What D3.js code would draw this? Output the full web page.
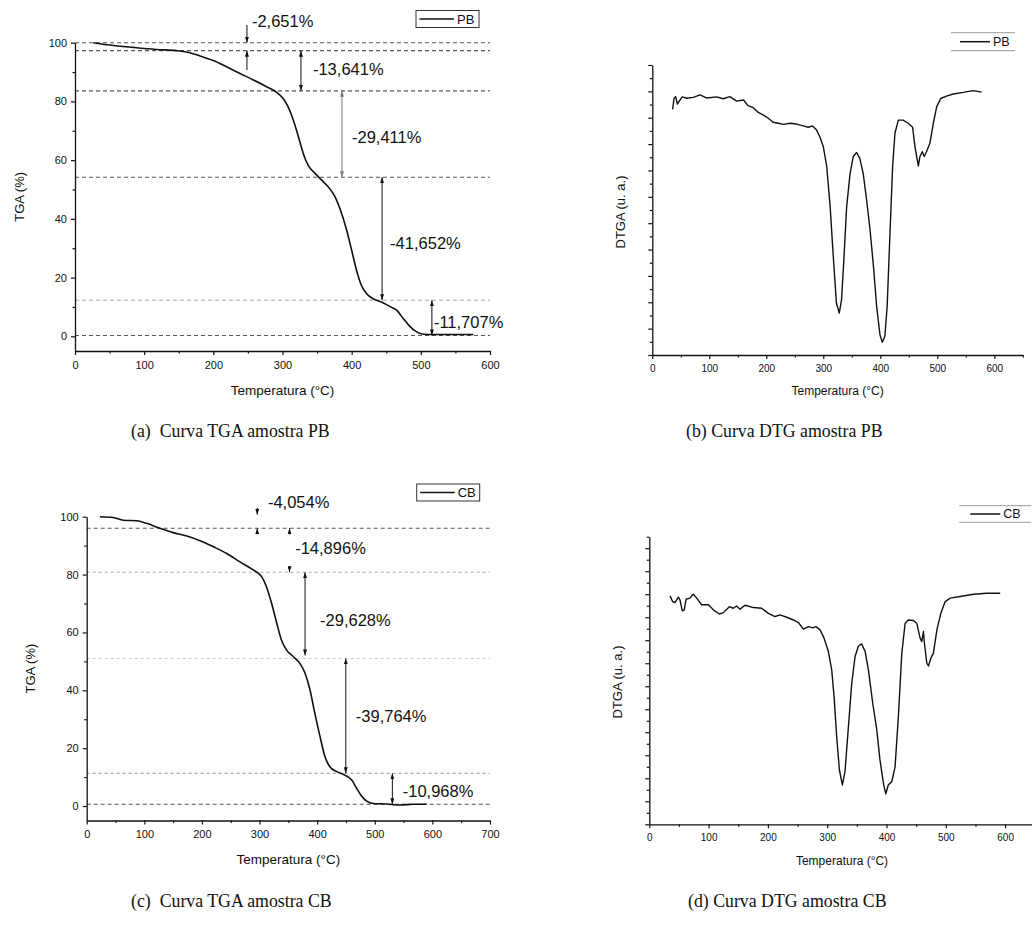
<!DOCTYPE html>
<html>
<head>
<meta charset="utf-8">
<script src="https://cdn.jsdelivr.net/npm/d3@7"></script>
<style>
  body { margin: 0; background: #fff; }
  svg { display: block; }
  text { font-family: "Liberation Sans", Arial, sans-serif; fill: #111; }
  .caption { font-family: "Liberation Serif", "Times New Roman", serif; font-size: 17.8px; white-space: pre; }
</style>
</head>
<body>
<div id="chart"></div>
<script>
// ---- data ----
// TGA curves: [temperature °C, mass %]
const tgaPB = [[26.5,100],[50.6,99.2],[84,98.4],[118,97.7],[147,97.3],[166,96.6],[180.7,95.5],[200,93.9],[219,91.8],[238.6,89.5],[258,87.3],[277,85],[291.6,83.1],[301,81],[308,78.2],[315.7,73.6],[323,68],[330,62.3],[337,58.3],[347,55.5],[356.6,53.2],[366,50.9],[376,47.5],[383,43.5],[392.8,36.1],[400,29.3],[407,22.5],[414,17.4],[421.7,14.5],[431,12.8],[443,11.7],[455,10.2],[465,8.9],[474.7,6],[484,3.4],[494,1.5],[503.6,0.7],[518,0.6],[576,0.6]];
const tgaCB = [[23,100],[46,99.7],[63.6,98.8],[86.8,98.6],[104,97.7],[127,96],[150,94.5],[173.6,93.3],[196.7,91.7],[220,89.6],[243,87.3],[266,84.4],[289,81.6],[303.7,79.3],[312,75.8],[321,70],[330,63.1],[338,57.4],[347,53.9],[358.7,51.6],[370,49.3],[379,45.9],[387.6,40.1],[396,32],[405,24],[413.6,17],[422,13.6],[434,11.9],[448,10.7],[460,9],[468.6,6.1],[477,3.5],[486,1.7],[497.5,0.9],[520.7,0.7],[543.8,0.35],[567,0.6],[590,0.6]];

// DTG curves: [temperature °C, arbitrary units]
const dtgPB = [[35.7,9.32],[38,9.73],[41,9.8],[44,9.52],[48.5,9.67],[52.6,9.79],[60,9.74],[72,9.77],[83.6,9.87],[95,9.75],[113,9.79],[124.6,9.72],[136,9.8],[148,9.63],[160,9.67],[168,9.46],[177,9.38],[186,9.2],[195,9.1],[203.5,8.98],[212,8.83],[221,8.79],[230,8.75],[241.5,8.79],[253,8.76],[265,8.69],[273.7,8.64],[281,8.69],[288,8.54],[294,8.28],[300,7.9],[306,7.15],[312,5.63],[317.5,3.74],[323,1.97],[328,1.59],[332,2.1],[336,3.6],[341,5.63],[347,6.89],[352.6,7.53],[358.5,7.68],[364,7.46],[370,6.89],[376,5.88],[382,4.75],[388,3.36],[393.6,1.84],[399.4,0.77],[403.5,0.48],[408,0.71],[412,1.84],[417,4.62],[421.6,7.15],[425.7,8.41],[431.6,8.91],[440,8.91],[449,8.79],[456.7,8.64],[460.8,7.9],[466.7,7.17],[469.6,7.53],[473.7,7.71],[477,7.53],[481,7.71],[487,8.03],[493,8.79],[499,9.42],[506,9.73],[516,9.82],[528,9.9],[545.6,9.96],[563,10.03],[577.8,9.97]];
const dtgCB = [[34.9,9.93],[39.4,9.68],[43.3,9.64],[49,9.87],[51.7,9.75],[55.7,9.28],[59,9.32],[61.9,9.78],[68.6,9.83],[74.2,10],[80,9.83],[88.3,9.54],[99.6,9.54],[108,9.32],[118,9.14],[125,9.2],[135,9.46],[141.7,9.39],[147,9.49],[153,9.35],[161.4,9.52],[175.5,9.42],[189.5,9.39],[200.8,9.17],[212,9.03],[220.5,9.1],[231.7,9],[243,8.88],[251.4,8.77],[259.8,8.48],[268.3,8.59],[275.6,8.54],[281,8.59],[288,8.45],[294.7,8.09],[302,7.51],[307.6,6.71],[311.6,5.55],[316,3.81],[320.6,2.36],[325.6,1.71],[330,2.29],[335.8,4.25],[341.4,6.13],[347,7.29],[352.6,7.75],[358,7.84],[364,7.51],[369.5,6.71],[376.8,5.26],[383.6,4.1],[389,2.8],[394.8,1.78],[398.8,1.32],[403,1.71],[409,1.86],[414.5,2.51],[420,4.68],[425.8,7.43],[431.4,8.74],[437,8.88],[445.4,8.86],[451,8.74],[456.7,8.09],[459.5,7.94],[462.3,8.38],[464,7.87],[468,7],[470.8,6.88],[474.7,7.22],[479,7.43],[485,8.45],[491.6,9.17],[499,9.68],[507.3,9.83],[524,9.9],[546.7,10],[569,10.04],[591.7,10.04]];

// mass-loss steps (levels in %) and their labels
const pbLevels = [100, 97.3, 83.6, 54.2, 12.3, 0.3];
const pbStepLabels = ["-2,651%", "-13,641%", "-29,411%", "-41,652%", "-11,707%"];
const pbStepTemps = [248.6, 326.7, 386, 444, 516];
const cbLevels = [100, 96.0, 80.8, 51.0, 11.3, 0.6];
const cbStepLabels = ["-4,054%", "-14,896%", "-29,628%", "-39,764%", "-10,968%"];
const cbStepTemps = [296, 352, 379, 449.7, 530.5];

const captions = ["(a)  Curva TGA amostra PB", "(b) Curva DTG amostra PB", "(c)  Curva TGA amostra CB", "(d) Curva DTG amostra CB"];

// ---- drawing ----
const svg = d3.select("#chart").append("svg").attr("width", 1032).attr("height", 942);

const defs = svg.append("defs");
[["arrowBlack", "#111"], ["arrowGray", "#777"]].forEach(([id, c]) => {
    defs.append("marker")
        .attr("id", id)
        .attr("viewBox", "0 0 6 4")
        .attr("refX", 6).attr("refY", 2)
        .attr("markerWidth", 6).attr("markerHeight", 4)
        .attr("markerUnits", "userSpaceOnUse")
        .attr("orient", "auto-start-reverse")
        .append("path").attr("d", "M0,0 L6,2 L0,4 Z").attr("fill", c);
});

function styleAxis(sel) {
    sel.selectAll("path.domain").attr("stroke", "#111").attr("stroke-width", 1.3);
    sel.selectAll(".tick line").attr("stroke", "#111").attr("stroke-width", 1.2);
}

function drawAxes(g, x, y, o) {
    const y0 = y.range()[0], x0 = x.range()[0];
    const xa = g.append("g").attr("transform", `translate(0,${y0})`)
        .call(d3.axisBottom(x).tickValues(o.xMajor).tickSize(4).tickSizeOuter(0).tickPadding(o.xPad));
    xa.selectAll("text").attr("font-size", o.tickFont).attr("fill", "#222");
    styleAxis(xa);
    const xm = g.append("g").attr("transform", `translate(0,${y0})`)
        .call(d3.axisBottom(x).tickValues(o.xMinor).tickSize(2.5).tickFormat(""));
    xm.select("path.domain").remove();
    styleAxis(xm);

    const ya = g.append("g").attr("transform", `translate(${x0},0)`)
        .call(d3.axisLeft(y).tickValues(o.yMajor).tickSize(4).tickSizeOuter(0).tickPadding(4)
            .tickFormat(o.yLabels ? d3.format("d") : ""));
    ya.selectAll("text").attr("font-size", o.tickFont).attr("fill", "#222");
    styleAxis(ya);
    const ym = g.append("g").attr("transform", `translate(${x0},0)`)
        .call(d3.axisLeft(y).tickValues(o.yMinor).tickSize(2.5).tickFormat(""));
    ym.select("path.domain").remove();
    styleAxis(ym);
}

function drawTga(p) {
    const g = svg.append("g");
    const x = d3.scaleLinear().domain(p.xDomain).range([p.left, p.right]);
    const y = d3.scaleLinear().domain([-5, 100]).range([p.bottom, p.top]);

    // dashed step levels
    g.selectAll(".level").data(p.levels.map((v, i) => ({v, i})).filter(d => p.levelShown[d.i]))
        .join("line")
        .attr("x1", x(0)).attr("x2", x(p.xDomain[1]))
        .attr("y1", d => y(d.v)).attr("y2", d => y(d.v))
        .attr("stroke", d => p.levelColors[d.i])
        .attr("stroke-width", 1.1)
        .attr("stroke-dasharray", d => p.levelDash[d.i]);

    drawAxes(g, x, y, {
        xMajor: d3.range(0, p.xDomain[1] + 1, 100),
        xMinor: d3.range(50, p.xDomain[1], 100),
        yMajor: [0, 20, 40, 60, 80, 100],
        yMinor: [10, 30, 50, 70, 90],
        yLabels: true, tickFont: 11, xPad: 6
    });

    const line = d3.line().x(d => x(d[0])).y(d => y(d[1])).curve(d3.curveMonotoneX);
    g.append("path").datum(p.curve)
        .attr("d", line).attr("fill", "none").attr("stroke", "#111").attr("stroke-width", 1.6);

    // step arrows and labels
    p.stepTemps.forEach((t, i) => {
        const a = p.arrows[i];
        const mk = `url(#${a.color ? "arrowGray" : "arrowBlack"})`;
        a.segs.forEach(s => {
            g.append("line")
                .attr("x1", x(t)).attr("x2", x(t))
                .attr("y1", s[0]).attr("y2", s[1])
                .attr("stroke", a.color || "#111").attr("stroke-width", 1)
                .attr("marker-end", mk)
                .attr("marker-start", s[2] ? mk : null);
        });
        g.append("text")
            .attr("x", x(t) + a.dx).attr("y", a.ly)
            .attr("dy", "0.35em")
            .attr("font-size", 16.5)
            .attr("fill", "#111")
            .text(p.stepLabels[i]);
    });

    g.append("text")
        .attr("transform", `translate(${p.left - 56},${(p.top + p.bottom) / 2}) rotate(-90)`)
        .attr("text-anchor", "middle").attr("dy", "0.35em")
        .attr("font-size", 13).text("TGA (%)");
    g.append("text")
        .attr("x", (p.left + p.right) / 2).attr("y", p.bottom + 39)
        .attr("text-anchor", "middle").attr("dy", "0.35em")
        .attr("font-size", 13.5).text("Temperatura (°C)");

    // legend box
    const lg = g.append("g").attr("transform", `translate(${p.legend[0]},${p.legend[1]})`);
    lg.append("rect").attr("width", 63).attr("height", 17)
        .attr("fill", "none").attr("stroke", "#333").attr("stroke-width", 1);
    lg.append("line").attr("x1", 3.5).attr("x2", 38).attr("y1", 8.5).attr("y2", 8.5)
        .attr("stroke", "#111").attr("stroke-width", 1.6);
    lg.append("text").attr("x", 41).attr("y", 8.5).attr("dy", "0.36em")
        .attr("font-size", 13).text(p.name);
}

function drawDtg(p) {
    const g = svg.append("g");
    const x = d3.scaleLinear().domain([0, 650]).range([p.left, p.left + 6.5 * p.perHundred]);
    const y = d3.scaleLinear().domain([0, p.yMax]).range([p.bottom, p.top]);

    drawAxes(g, x, y, {
        xMajor: [0, 100, 200, 300, 400, 500, 600],
        xMinor: [50, 150, 250, 350, 450, 550, 650],
        yMajor: d3.range(0, Math.floor(p.yMax) + 1, 1),
        yMinor: d3.range(0.5, p.yMax + 0.01, 1),
        yLabels: false, tickFont: 10, xPad: 6
    });

    const line = d3.line().x(d => x(d[0])).y(d => y(d[1]));
    g.append("path").datum(p.curve)
        .attr("d", line).attr("fill", "none").attr("stroke", "#111")
        .attr("stroke-width", 1.4).attr("stroke-linejoin", "round");

    g.append("text")
        .attr("transform", `translate(${p.left - 32},${p.labelY}) rotate(-90)`)
        .attr("text-anchor", "middle").attr("dy", "0.35em")
        .attr("font-size", 13).text("DTGA (u. a.)");
    g.append("text")
        .attr("x", (p.left + x(650)) / 2).attr("y", p.bottom + 36)
        .attr("text-anchor", "middle").attr("dy", "0.35em")
        .attr("font-size", 12).text("Temperatura (°C)");

    // legend: only top and bottom rules
    const lg = g.append("g").attr("transform", `translate(${p.legend[0]},${p.legend[1]})`);
    [0, p.legend[3]].forEach(yy => lg.append("line")
        .attr("x1", 0).attr("x2", p.legend[2]).attr("y1", yy).attr("y2", yy)
        .attr("stroke", "#999").attr("stroke-width", 1));
    lg.append("line").attr("x1", p.legend[4]).attr("x2", p.legend[4] + 30)
        .attr("y1", p.legend[3] / 2).attr("y2", p.legend[3] / 2)
        .attr("stroke", "#111").attr("stroke-width", 1.5);
    lg.append("text").attr("x", p.legend[4] + 33).attr("y", p.legend[3] / 2).attr("dy", "0.36em")
        .attr("font-size", 12.5).text(p.name);
}

// (a) TGA PB
{
    const left = 75, right = 490, top = 42.7, bottom = 351;
    const y = d3.scaleLinear().domain([-5, 100]).range([bottom, top]);
    const L = pbLevels.map(v => y(v));
    drawTga({
        name: "PB", curve: tgaPB, xDomain: [0, 600], left, right, top, bottom,
        levels: pbLevels, levelShown: [1, 1, 1, 1, 1, 1],
        levelColors: ["#555", "#555", "#555", "#555", "#aaa", "#555"],
        levelDash: ["4,3", "4,3", "4,3", "4,3", "4,3", "4,3"],
        stepLabels: pbStepLabels, stepTemps: pbStepTemps,
        legend: [416, 10.5],
        arrows: [
            {segs: [[25, L[0]], [70, L[1]]], dx: 5, ly: 21},
            {segs: [[L[1], L[2], 1]], dx: 12, ly: (L[1] + L[2]) / 2 - 2},
            {segs: [[L[2], L[3], 1]], dx: 10, ly: (L[2] + L[3]) / 2 + 3, color: "#777"},
            {segs: [[L[3], L[4], 1]], dx: 8, ly: (L[3] + L[4]) / 2 + 5},
            {segs: [[L[4], L[5], 1]], dx: 2, ly: (L[4] + L[5]) / 2 + 4}
        ]
    });
}

// (c) TGA CB
{
    const left = 86.7, right = 490, top = 516.7, bottom = 820.5;
    const y = d3.scaleLinear().domain([-5, 100]).range([bottom, top]);
    const L = cbLevels.map(v => y(v));
    drawTga({
        name: "CB", curve: tgaCB, xDomain: [0, 700], left, right, top, bottom,
        levels: cbLevels, levelShown: [0, 1, 1, 1, 1, 1],
        levelColors: ["#555", "#555", "#aaa", "#ccc", "#aaa", "#555"],
        levelDash: ["4,3", "4,3", "3,3", "3,3", "3,3", "4,3"],
        stepLabels: cbStepLabels, stepTemps: cbStepTemps,
        legend: [416.7, 484],
        arrows: [
            {segs: [[L[0] - 9, L[0] - 2], [L[1] + 6, L[1]]], dx: 10.7, ly: 502},
            {segs: [[L[1] + 6, L[1]], [L[2] - 6, L[2]]], dx: 5.7, ly: (L[1] + L[2]) / 2 - 2},
            {segs: [[L[2], L[3] - 3, 1]], dx: 15, ly: (L[2] + L[3]) / 2 + 5},
            {segs: [[L[3], L[4], 1]], dx: 10, ly: (L[3] + L[4]) / 2},
            {segs: [[L[4], L[5], 1]], dx: 10.4, ly: (L[4] + L[5]) / 2 + 2}
        ]
    });
}

// (b) DTG PB
drawDtg({
    name: "PB", curve: dtgPB, left: 652.3, perHundred: 57, top: 65, bottom: 355, yMax: 11,
    labelY: 212, legend: [951, 32.7, 64, 18, 9]
});

// (d) DTG CB
drawDtg({
    name: "CB", curve: dtgCB, left: 649.3, perHundred: 59.3, top: 536.7, bottom: 824.3, yMax: 12.5,
    labelY: 682, legend: [959.3, 505.7, 72, 16.6, 11]
});

// captions
const capPos = [[131, 431], [686, 431], [131, 901], [688, 901]];
svg.selectAll(".caption").data(captions).join("text")
    .attr("class", "caption")
    .attr("x", (d, i) => capPos[i][0]).attr("y", (d, i) => capPos[i][1])
    .attr("dy", "0.35em")
    .text(d => d);
</script>
</body>
</html>
